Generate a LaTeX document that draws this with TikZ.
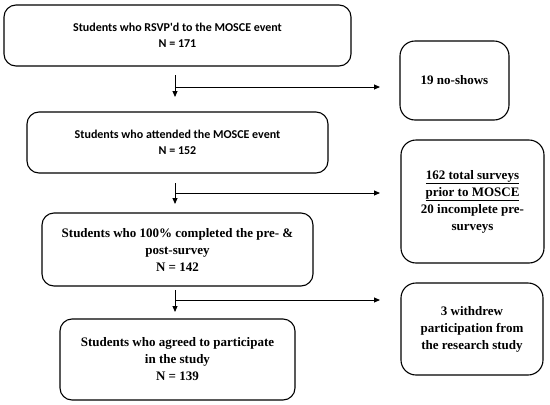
\documentclass[tikz,border=0pt]{standalone}
\usepackage{fontspec}
\setmainfont{Liberation Serif}
\newfontfamily\calfont{Carlito}
\usetikzlibrary{arrows.meta,calc}
\begin{document}
\begin{tikzpicture}[x=1pt,y=-1pt,
  box/.style={draw,line width=1.1pt,rounded corners=12pt,align=center,inner sep=0pt},
  sbox/.style={box,font=\calfont\bfseries\fontsize{12}{15.5}\selectfont},
  rbox/.style={box,rounded corners=15pt,font=\bfseries\fontsize{13}{17}\selectfont},
  lbox/.style={box,font=\bfseries\fontsize{13}{17}\selectfont},
  flow/.style={line width=0.9pt,-{Triangle[length=6pt,width=5pt]}}]
\useasboundingbox (0,0) rectangle (550,405);
\node[sbox,minimum width=347pt,minimum height=61pt] (b1) at (177.5,35.5) {Students who RSVP'd to the MOSCE event\\N = 171};
\node[sbox,minimum width=301pt,minimum height=61pt] (b2) at (177.5,142.5) {Students who attended the MOSCE event\\N = 152};
\node[lbox,minimum width=271pt,minimum height=73pt] (b3) at (177.5,249.5) {Students who 100\% completed the pre- \&\\post-survey\\N = 142};
\node[lbox,minimum width=235pt,minimum height=81pt] (b4) at (177.5,359.5) {Students who agreed to participate\\in the study\\N = 139};
\node[rbox,minimum width=109pt,minimum height=79pt] (r1) at (454.5,80.5) {19 no-shows};
\node[rbox,minimum width=143pt,minimum height=123pt] (r2) at (472.5,201.5) {\underline{162 total surveys}\\\underline{prior to MOSCE}\\20 incomplete pre-\\surveys};
\node[rbox,minimum width=142pt,minimum height=92pt] (r3) at (472,329) {3 withdrew\\participation from\\the research study};
% connectors
\coordinate (s1) at (175,75);
\coordinate (t1) at (175,97);
\coordinate (j1) at (175,87);
\coordinate (e1) at (380,87);
\coordinate (s2) at (175,183);
\coordinate (t2) at (175,204);
\coordinate (j2) at (175,193);
\coordinate (e2) at (380,193);
\coordinate (s3) at (175,290);
\coordinate (t3) at (175,312);
\coordinate (j3) at (175,300);
\coordinate (e3) at (380,300);
\draw[flow] (s1) -- (t1);
\draw[flow] (j1) -- (e1);
\draw[flow] (s2) -- (t2);
\draw[flow] (j2) -- (e2);
\draw[flow] (s3) -- (t3);
\draw[flow] (j3) -- (e3);
\end{tikzpicture}
\end{document}
